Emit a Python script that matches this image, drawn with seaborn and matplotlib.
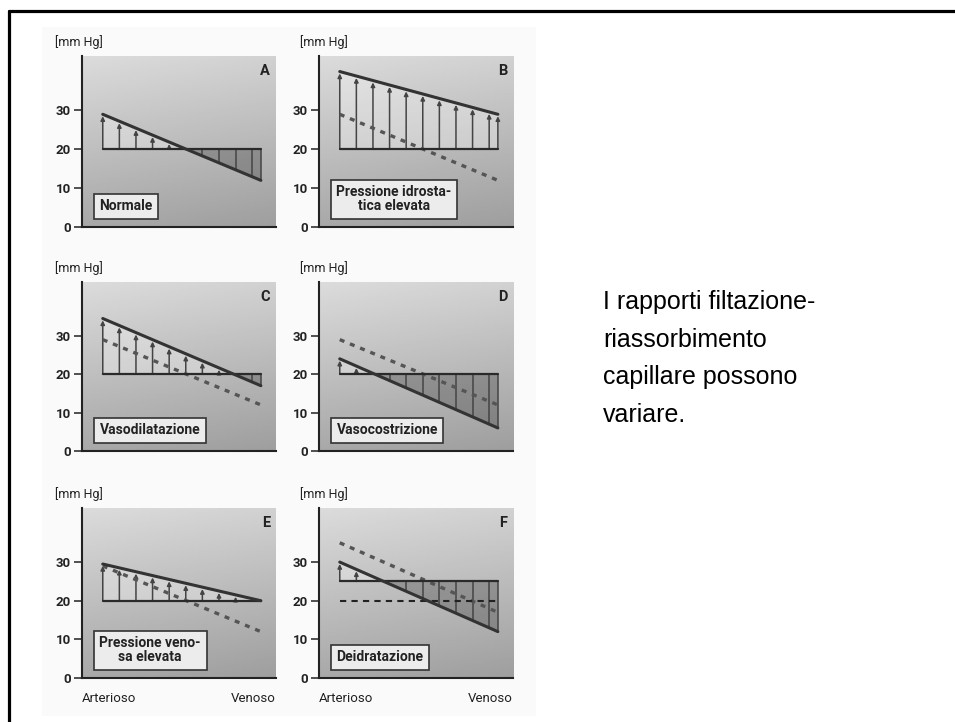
import numpy as np
import matplotlib
matplotlib.use('Agg')
import matplotlib.pyplot as plt
import seaborn as sns
from matplotlib.lines import Line2D
from matplotlib.patches import Rectangle

sns.set_style('white')
plt.rcParams['font.family'] = ['Roboto', 'DejaVu Sans']

# ---------------------------------------------------------------------------
# DATA (mmHg)
# ---------------------------------------------------------------------------
panel_ids = ['A', 'B', 'C', 'D', 'E', 'F']
panel_labels = ['Normale', 'Pressione idrosta-\ntica elevata', 'Vasodilatazione',
                'Vasocostrizione', 'Pressione veno-\nsa elevata', 'Deidratazione']
hydro_art = [29, 40, 34.5, 24, 29.5, 30]      # hydrostatic pressure, arterial end
hydro_ven = [12, 29, 17, 6, 20, 12]           # hydrostatic pressure, venous end
oncotic = [20, 20, 20, 20, 20, 25]            # colloid-osmotic pressure
ref_art = [None, 29, 29, 29, 29, 35]          # dashed reference line, arterial end
ref_ven = [None, 12, 12, 12, 12, 17]          # dashed reference line, venous end
ref_oncotic = [None, None, None, None, None, 20]
ytick_vals = [0, 10, 20, 30]
x_labels = ['Arterioso', 'Venoso']
arrow_pos = [0, 0.105, 0.21, 0.315, 0.42, 0.525, 0.63, 0.735, 0.84, 0.945, 1.0]
side_text = 'I rapporti filtazione-\nriassorbimento\ncapillare possono\nvariare.'

X0, X1 = 0.107, 0.922   # capillary start / end on the x axis

# ---------------------------------------------------------------------------
W, H = 955, 722
fig = plt.figure(figsize=(W / 100, H / 100), dpi=100)
fig.patch.set_facecolor('white')

# faint paper background behind the figure block
fig.add_artist(Rectangle((42 / W, 1 - 716 / H), (536 - 42) / W, (716 - 27) / H,
                         transform=fig.transFigure, facecolor='#fafafa',
                         edgecolor='none', zorder=0))
# frame: top and left edges only
fig.add_artist(Line2D([9 / W, 1], [1 - 11 / H, 1 - 11 / H], color='black', lw=2.3,
                      transform=fig.transFigure))
fig.add_artist(Line2D([9 / W, 9 / W], [0, 1 - 11 / H], color='black', lw=2.3,
                      transform=fig.transFigure))

col_left = [82, 319]
col_w = 194
row_top = [56, 282, 508]
row_bot = [227, 451, 678]
mm_x = [55, 300]

yy, xx = np.mgrid[0:1:100j, 0:1:100j]
grad = 0.66 + 0.2 * yy - 0.04 * xx

for i, pid in enumerate(panel_ids):
    r, c = divmod(i, 2)
    l, t, b = col_left[c], row_top[r], row_bot[r]
    ax = fig.add_axes([l / W, 1 - b / H, col_w / W, (b - t) / H])
    ax.set_xlim(0, 1)
    ax.set_ylim(0, 44)
    ax.imshow(grad, cmap='gray', vmin=0, vmax=1, extent=(0, 1, 0, 44),
              origin='lower', aspect='auto', zorder=0)

    hs, he, onc = hydro_art[i], hydro_ven[i], oncotic[i]
    xs = np.array([X0, X1])
    hy = np.array([hs, he])
    on = np.array([onc, onc])

    ax.fill_between(xs, on, hy, where=hy >= on, interpolate=True,
                    color='white', alpha=0.3, lw=0, zorder=1)
    ax.fill_between(xs, on, hy, where=hy <= on, interpolate=True,
                    color='black', alpha=0.22, lw=0, zorder=1)

    # pressure arrows along the capillary
    for p in arrow_pos:
        x = X0 + p * (X1 - X0)
        h = hs + p * (he - hs)
        d = h - onc
        if d > 1.3:
            ax.annotate('', xy=(x, h - 0.5), xytext=(x, onc),
                        arrowprops=dict(arrowstyle='-|>', color='#444444',
                                        lw=1.1, mutation_scale=6,
                                        shrinkA=0, shrinkB=0), zorder=2)
        elif d < -1.3:
            ax.vlines(x, h, onc, color='#444444', lw=1.1, zorder=2)

    if ref_art[i] is not None:
        sns.lineplot(x=xs, y=[ref_art[i], ref_ven[i]], ax=ax, color='#555555',
                     lw=2.4, linestyle=(0, (1.5, 1.8)), zorder=3)
    if ref_oncotic[i] is not None:
        sns.lineplot(x=xs, y=[ref_oncotic[i]] * 2, ax=ax, color='#222222',
                     lw=1.5, linestyle=(0, (3, 2.5)), zorder=3)

    sns.lineplot(x=xs, y=on, ax=ax, color='#2a2a2a', lw=1.6, zorder=4)
    sns.lineplot(x=xs, y=hy, ax=ax, color='#333333', lw=2.2, zorder=4)

    for s in ['top', 'right']:
        ax.spines[s].set_visible(False)
    for s in ['left', 'bottom']:
        ax.spines[s].set_color('#222222')
        ax.spines[s].set_linewidth(1.5)
    ax.set_xticks([])
    ax.set_yticks(ytick_vals)
    ax.set_yticklabels([str(v) for v in ytick_vals], fontsize=9.5, fontweight='bold',
                       color='#222222')
    ax.tick_params(axis='y', direction='out', length=6, width=1.2, pad=2,
                   color='#333333', left=True)
    ax.set_xlabel('')
    ax.set_ylabel('')

    ax.text(0.97, 0.91, pid, transform=ax.transAxes, ha='right', va='center',
            fontsize=10.5, fontweight='bold', color='#222222')
    ax.text(0.09, 0.08, panel_labels[i], transform=ax.transAxes, ha='left',
            va='bottom', fontsize=10, fontweight='bold', color='#222222',
            linespacing=1.0, multialignment='center',
            bbox=dict(boxstyle='square,pad=0.4', facecolor='#ececec',
                      edgecolor='#333333', lw=1.2), zorder=5)

    fig.text(mm_x[c] / W, 1 - (t - 14) / H, '[mm Hg]', ha='left', va='center',
             fontsize=9, color='#222222')

    if r == 2:
        ax.text(0, -20 / (b - t), x_labels[0], transform=ax.transAxes, ha='left',
                va='center', fontsize=9.5, color='#222222')
        ax.text(1, -20 / (b - t), x_labels[1], transform=ax.transAxes, ha='right',
                va='center', fontsize=9.5, color='#222222')

fig.text(603 / W, 1 - 290 / H, side_text, ha='left', va='top', fontsize=18,
         family=['Liberation Sans', 'DejaVu Sans'], color='black', linespacing=1.72)

plt.savefig('out.png', dpi=100)
plt.close()
